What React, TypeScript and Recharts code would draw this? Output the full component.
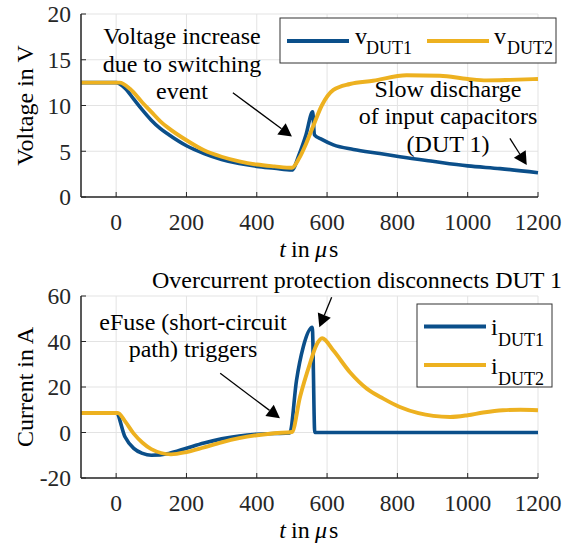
import React from 'react';
import { LineChart, Line, XAxis, YAxis, CartesianGrid, ReferenceLine } from 'recharts';

const FONT = '"Liberation Serif", "Times New Roman", serif';
const BLUE = '#0b4f8a';
const ORANGE = '#edb120';
const AXIS = '#262626';
const GRID = '#e3e3e3';

const timeTicks = [0, 200, 400, 600, 800, 1000, 1200];
const timeDomain = [-100, 1200];
const voltageTicks = [0, 5, 10, 15, 20];
const currentTicks = [-20, 0, 20, 40, 60];

// Voltage DUT1
const vDut1Time = [-100, 0, 25, 50, 75, 100, 125, 150, 200, 250, 300, 350, 400, 450, 500, 520, 540, 559, 564, 585, 618, 675, 750, 807, 900, 1000, 1092, 1200];
const vDut1Values = [12.5, 12.5, 11.9, 10.7, 9.5, 8.4, 7.5, 6.8, 5.6, 4.75, 4.1, 3.65, 3.35, 3.15, 2.95, 4.6, 6.8, 9.3, 6.8, 6.3, 5.7, 5.2, 4.75, 4.4, 3.9, 3.4, 3.1, 2.65];
// Voltage DUT2
const vDut2Time = [-100, 10, 40, 75, 100, 125, 150, 200, 250, 300, 350, 400, 450, 500, 520, 540, 560, 585, 618, 665, 731, 826, 921, 1000, 1054, 1120, 1200];
const vDut2Values = [12.5, 12.5, 11.8, 10.3, 9.3, 8.3, 7.5, 6.2, 5.1, 4.4, 3.9, 3.55, 3.35, 3.2, 4.2, 5.8, 7.7, 10.0, 11.7, 12.35, 12.7, 13.3, 13.25, 12.9, 12.75, 12.8, 12.9];
// Current DUT1
const iDut1Time = [-100, 0, 25, 50, 75, 100, 150, 200, 250, 300, 350, 400, 450, 494, 513, 532, 558, 565, 1200];
const iDut1Values = [8.6, 8.6, -1.9, -7.0, -9.2, -10.0, -9.2, -6.9, -4.6, -2.8, -1.5, -0.75, -0.45, -0.2, 22.9, 37.5, 46.2, 0, 0];
// Current DUT2
const iDut2Time = [-100, 5, 25, 50, 75, 100, 156, 200, 250, 300, 350, 400, 450, 500, 523, 551, 570, 586, 618, 665, 713, 760, 807, 860, 902, 950, 1000, 1044, 1100, 1150, 1200];
const iDut2Values = [8.6, 8.6, 5.0, -0.5, -4.5, -7.3, -9.6, -8.6, -6.5, -4.3, -2.5, -1.2, -0.3, 0.2, 15.6, 30.2, 38.5, 41.4, 36.0, 26.5, 19.3, 14.9, 11.2, 8.5, 7.3, 6.8, 7.6, 8.8, 9.8, 10.0, 9.8];

const zip = (ts: number[], vs: number[]) => ts.map((t, i) => ({ t, y: vs[i] }));

const vDut1Data = zip(vDut1Time, vDut1Values);
const vDut2Data = zip(vDut2Time, vDut2Values);
const iDut1Data = zip(iDut1Time, iDut1Values);
const iDut2Data = zip(iDut2Time, iDut2Values);

// Annotation arrows in data coordinates [from, to]
const voltageArrows = [
  [{ x: 332, y: 11.4 }, { x: 500, y: 6.6 }],
  [{ x: 1120, y: 6.4 }, { x: 1168, y: 3.5 }],
];
const currentArrows = [
  [{ x: 613, y: 59.4 }, { x: 578, y: 46.3 }],
  [{ x: 296, y: 26 }, { x: 466, y: 6.3 }],
];

const voltageLegend = [
  { sym: 'v', sub: 'DUT1', color: BLUE },
  { sym: 'v', sub: 'DUT2', color: ORANGE },
];
const currentLegend = [
  { sym: 'i', sub: 'DUT1', color: BLUE },
  { sym: 'i', sub: 'DUT2', color: ORANGE },
];

const Arrow = (props: any) => {
  const { x1, y1, x2, y2 } = props;
  const dx = x2 - x1;
  const dy = y2 - y1;
  const len = Math.hypot(dx, dy) || 1;
  const ux = dx / len;
  const uy = dy / len;
  const L = 13;
  const W = 7;
  const bx = x2 - ux * L;
  const by = y2 - uy * L;
  return (
    <g>
      <line x1={x1} y1={y1} x2={bx} y2={by} stroke="#000" strokeWidth={1.3} />
      <polygon
        points={`${x2},${y2} ${bx - uy * W},${by + ux * W} ${bx + uy * W},${by - ux * W}`}
        fill="#000"
      />
    </g>
  );
};

const tickStyle = { fontSize: 23.5, fill: AXIS, style: { fontFamily: FONT } };

function axes(yDomain: number[], yTicks: number[]) {
  return [
    <CartesianGrid key="g" stroke={GRID} strokeWidth={1} />,
    <XAxis
      key="xb"
      dataKey="t"
      type="number"
      domain={timeDomain}
      ticks={timeTicks}
      interval={0}
      height={40}
      tickSize={-5}
      tickMargin={21}
      axisLine={{ stroke: AXIS, strokeWidth: 1.5 }}
      tickLine={{ stroke: AXIS, strokeWidth: 1 }}
      tick={tickStyle}
    />,
    <XAxis
      key="xt"
      xAxisId="top"
      orientation="top"
      dataKey="t"
      type="number"
      domain={timeDomain}
      ticks={timeTicks}
      interval={0}
      height={0}
      tickSize={-5}
      axisLine={{ stroke: AXIS, strokeWidth: 1.5 }}
      tickLine={{ stroke: AXIS, strokeWidth: 1 }}
      tick={false}
    />,
    <YAxis
      key="yl"
      type="number"
      domain={yDomain}
      ticks={yTicks}
      interval={0}
      width={60}
      tickSize={-5}
      tickMargin={15}
      axisLine={{ stroke: AXIS, strokeWidth: 1.5 }}
      tickLine={{ stroke: AXIS, strokeWidth: 1 }}
      tick={tickStyle}
    />,
    <YAxis
      key="yr"
      yAxisId="right"
      orientation="right"
      type="number"
      domain={yDomain}
      ticks={yTicks}
      interval={0}
      width={0}
      tickSize={-5}
      axisLine={{ stroke: AXIS, strokeWidth: 1.5 }}
      tickLine={{ stroke: AXIS, strokeWidth: 1 }}
      tick={false}
    />,
  ];
}

function Legend({ items, x, y, w, h, lineX, lineY, symX, subX, symDy, subDy }: any) {
  return (
    <g>
      <rect x={x} y={y} width={w} height={h} fill="#fff" stroke="#333" strokeWidth={1} />
      {items.map((it: any, k: number) => (
        <g key={k}>
          <line x1={lineX[k]} x2={lineX[k] + 62} y1={lineY[k]} y2={lineY[k]} stroke={it.color} strokeWidth={4} />
          <text x={symX[k]} y={lineY[k] + symDy} fontSize={24} style={{ fontFamily: FONT }} fill="#000">{it.sym}</text>
          <text x={subX[k]} y={lineY[k] + subDy} fontSize={18} style={{ fontFamily: FONT }} fill="#000">{it.sub}</text>
        </g>
      ))}
    </g>
  );
}

function TimeLabel({ y }: { y: number }) {
  const s = { fontSize: 24, style: { fontFamily: FONT }, fill: '#000' };
  return (
    <g>
      <text x={286} y={y} {...s} textAnchor="end" fontStyle="italic">t</text>
      <text x={291} y={y} {...s} textAnchor="start">in</text>
      <text x={315} y={y} {...s} textAnchor="start" fontStyle="italic">μ</text>
      <text x={329} y={y} {...s} textAnchor="start">s</text>
    </g>
  );
}

export default function App() {
  const textProps = { fontSize: 24, style: { fontFamily: FONT }, fill: '#000', textAnchor: 'middle' as const };
  return (
    <div style={{ position: 'absolute', left: 0, top: 0, width: 565, height: 549, background: '#fff', fontFamily: FONT }}>
      <div style={{ position: 'absolute', left: 0, top: 0 }}>
        <LineChart width={565} height={270} margin={{ top: 14, right: 27, bottom: 33, left: 21 }}>
          {axes([0, 20], voltageTicks)}
          <Line data={vDut1Data} dataKey="y" type="monotone" stroke={BLUE} strokeWidth={3.6} dot={false} activeDot={false} isAnimationActive={false} />
          <Line data={vDut2Data} dataKey="y" type="monotone" stroke={ORANGE} strokeWidth={3.9} dot={false} activeDot={false} isAnimationActive={false} />
          {voltageArrows.map((seg, k) => (
            <ReferenceLine key={k} segment={seg} shape={Arrow} />
          ))}
        </LineChart>
      </div>
      <div style={{ position: 'absolute', left: 0, top: 270 }}>
        <LineChart width={565} height={279} margin={{ top: 26, right: 27, bottom: 31, left: 21 }}>
          {axes([-20, 60], currentTicks)}
          <Line data={iDut1Data} dataKey="y" type="monotone" stroke={BLUE} strokeWidth={3.6} dot={false} activeDot={false} isAnimationActive={false} />
          <Line data={iDut2Data} dataKey="y" type="monotone" stroke={ORANGE} strokeWidth={3.9} dot={false} activeDot={false} isAnimationActive={false} />
          {currentArrows.map((seg, k) => (
            <ReferenceLine key={k} segment={seg} shape={Arrow} />
          ))}
        </LineChart>
      </div>
      <svg width={565} height={549} style={{ position: 'absolute', left: 0, top: 0, pointerEvents: 'none' }}>
        <text transform="translate(33,105.5) rotate(-90)" {...textProps}>Voltage in V</text>
        <text transform="translate(33,387) rotate(-90)" {...textProps}>Current in A</text>
        <TimeLabel y={257} />
        <TimeLabel y={538} />
        <text x={182} y={44} {...textProps}>Voltage increase</text>
        <text x={182} y={71.5} {...textProps}>due to switching</text>
        <text x={182} y={99} {...textProps}>event</text>
        <text x={448} y={96.5} {...textProps}>Slow discharge</text>
        <text x={448} y={124} {...textProps}>of input capacitors</text>
        <text x={448} y={151.5} {...textProps}>(DUT 1)</text>
        <text x={357} y={288} {...textProps}>Overcurrent protection disconnects DUT 1</text>
        <text x={193} y={330} {...textProps}>eFuse (short-circuit</text>
        <text x={193} y={357} {...textProps}>path) triggers</text>
        <Legend items={voltageLegend} x={280} y={18} w={276} h={45} lineX={[287, 427]} lineY={[41, 41]} symX={[355, 494]} subX={[366, 507]} symDy={2.5} subDy={13} />
        <Legend items={currentLegend} x={417} y={304} w={135} h={83} lineX={[424, 424]} lineY={[326.5, 365]} symX={[491, 491]} subX={[498, 498]} symDy={8.5} subDy={19.5} />
      </svg>
    </div>
  );
}
